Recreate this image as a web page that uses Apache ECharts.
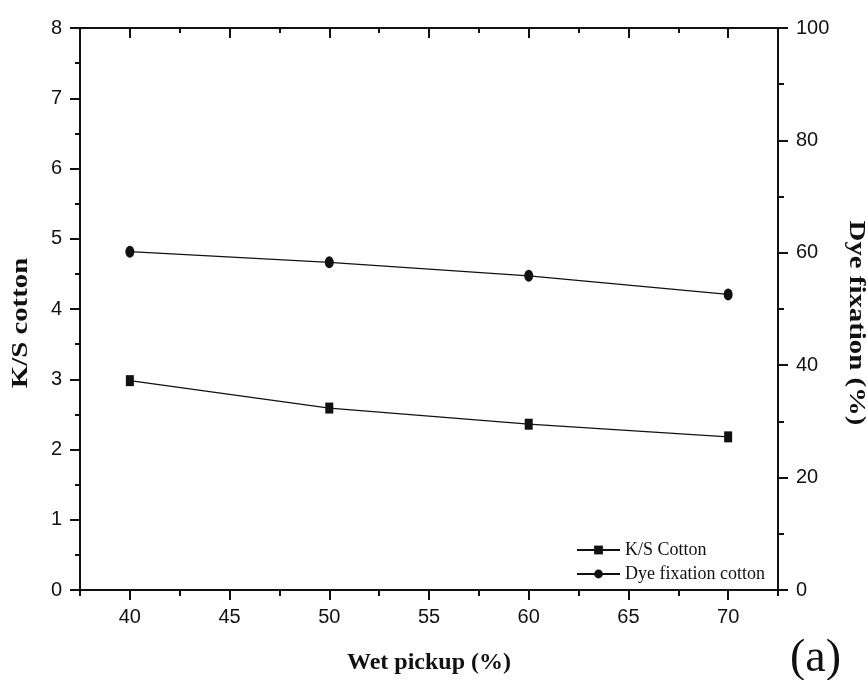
<!DOCTYPE html>
<html>
<head>
<meta charset="utf-8">
<script src="https://cdn.jsdelivr.net/npm/echarts@6/dist/echarts.min.js"></script>
<style>
  html, body { margin: 0; padding: 0; background: #fff; }
  #main { width: 867px; height: 680px; }
</style>
</head>
<body>
<div id="main"></div>
<script>
// data
var wetPickup = [40, 50, 60, 70];
var ksCotton = [2.98, 2.59, 2.36, 2.18];
var dyeFixation = [60.2, 58.3, 55.9, 52.6];

var xMajorTicks = [40, 45, 50, 55, 60, 65, 70];
var xMinorTicks = [37.5, 42.5, 47.5, 52.5, 57.5, 62.5, 67.5, 72.5];

var black = '#111';
var sans = 'Liberation Sans';
var serif = 'Liberation Serif';

function pairs(xs, ys) {
    return xs.map(function (x, i) { return [x, ys[i]]; });
}

var lineStyle = {color: black, width: 1.3};
var tickStyle = {color: black, width: 2};

// the source figure is a bit stretched vertically, so the rotated titles are too
var titleStyle = {fontFamily: serif, fontWeight: 'bold', fontSize: 24, fill: black, align: 'center', verticalAlign: 'middle'};

var chart = echarts.init(document.getElementById('main'));
chart.setOption({
    animation: false,
    backgroundColor: '#fff',
    grid: {left: 80, right: 89, top: 28, bottom: 89},
    legend: {
        orient: 'vertical',
        left: 571,
        top: 536,
        itemWidth: 43,
        itemHeight: 11,
        itemGap: 6,
        textStyle: {fontFamily: serif, fontSize: 18, color: black},
        data: ['K/S Cotton', 'Dye fixation cotton']
    },
    xAxis: [
        {
            type: 'value',
            position: 'bottom',
            min: 37.5,
            max: 72.5,
            name: 'Wet pickup (%)',
            nameLocation: 'middle',
            nameGap: 61,
            nameTextStyle: {fontFamily: serif, fontWeight: 'bold', fontSize: 24, color: black},
            axisLine: {lineStyle: tickStyle},
            axisTick: {customValues: xMajorTicks, length: 10, lineStyle: tickStyle},
            axisLabel: {customValues: xMajorTicks, margin: 17, fontFamily: sans, fontSize: 20, color: black},
            splitLine: {show: false}
        },
        {
            type: 'value',
            position: 'bottom',
            min: 37.5,
            max: 72.5,
            axisLine: {show: false},
            axisTick: {customValues: xMinorTicks, length: 6, lineStyle: tickStyle},
            axisLabel: {show: false},
            splitLine: {show: false}
        },
        {
            type: 'value',
            position: 'top',
            min: 37.5,
            max: 72.5,
            axisLine: {lineStyle: tickStyle},
            axisTick: {inside: true, customValues: xMajorTicks, length: 10, lineStyle: tickStyle},
            axisLabel: {show: false},
            splitLine: {show: false}
        },
        {
            type: 'value',
            position: 'top',
            min: 37.5,
            max: 72.5,
            axisLine: {show: false},
            axisTick: {inside: true, customValues: xMinorTicks, length: 5, lineStyle: tickStyle},
            axisLabel: {show: false},
            splitLine: {show: false}
        }
    ],
    yAxis: [
        {
            type: 'value',
            position: 'left',
            min: 0,
            max: 8,
            interval: 1,
            axisLine: {show: true, lineStyle: tickStyle},
            axisTick: {show: true, length: 10, lineStyle: tickStyle},
            minorTick: {show: true, splitNumber: 2, length: 5, lineStyle: tickStyle},
            axisLabel: {margin: 18, fontFamily: sans, fontSize: 20, color: black},
            splitLine: {show: false}
        },
        {
            type: 'value',
            position: 'right',
            min: 0,
            max: 100,
            interval: 20,
            axisLine: {show: true, lineStyle: tickStyle},
            axisTick: {show: true, length: 10, lineStyle: tickStyle},
            minorTick: {show: true, splitNumber: 2, length: 6, lineStyle: tickStyle},
            axisLabel: {margin: 18, fontFamily: sans, fontSize: 20, color: black},
            splitLine: {show: false}
        }
    ],
    graphic: [
        {
            type: 'text',
            x: 21,
            y: 323,
            rotation: Math.PI / 2,
            scaleX: 1.2,
            style: Object.assign({text: 'K/S cotton'}, titleStyle)
        },
        {
            type: 'text',
            x: 856,
            y: 323,
            rotation: -Math.PI / 2,
            scaleX: 1.2,
            style: Object.assign({text: 'Dye fixation (%)'}, titleStyle)
        },
        {
            type: 'text',
            x: 790,
            y: 659,
            style: {text: '(a)', fontFamily: serif, fontSize: 46, fill: black, verticalAlign: 'middle'}
        }
    ],
    series: [
        {
            name: 'K/S Cotton',
            type: 'line',
            xAxisIndex: 0,
            yAxisIndex: 0,
            symbol: 'rect',
            symbolSize: [8, 11],
            itemStyle: {color: black},
            lineStyle: lineStyle,
            data: pairs(wetPickup, ksCotton)
        },
        {
            name: 'Dye fixation cotton',
            type: 'line',
            xAxisIndex: 0,
            yAxisIndex: 1,
            symbol: 'circle',
            symbolSize: [9, 12],
            itemStyle: {color: black},
            lineStyle: lineStyle,
            data: pairs(wetPickup, dyeFixation)
        }
    ]
});
</script>
</body>
</html>
